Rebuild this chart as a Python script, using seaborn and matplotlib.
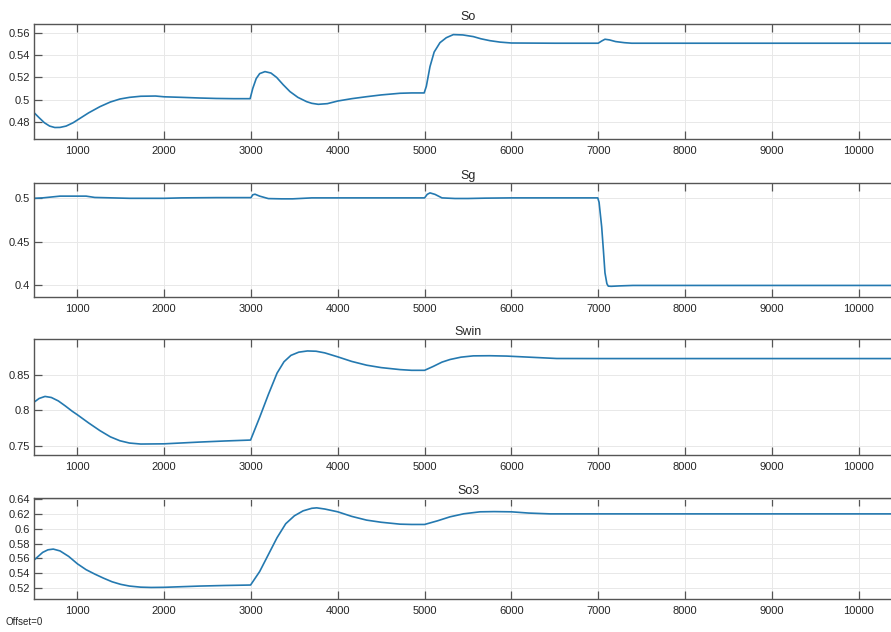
import numpy as np
import pandas as pd
import matplotlib
matplotlib.use("Agg")
import matplotlib.pyplot as plt
import matplotlib.ticker as mticker
import seaborn as sns

# ---------------- data ----------------
titles = ["So", "Sg", "Swin", "So3"]

so_x = [500, 560, 620, 680, 740, 800, 870, 950, 1000, 1130, 1260, 1380, 1490, 1600, 1730, 1900,
        2000, 2200, 2412, 2600, 2800, 2990, 3020, 3060, 3100, 3161, 3230, 3296, 3370, 3449,
        3540, 3641, 3700, 3775, 3880, 4000, 4160, 4332, 4500, 4717, 4850, 4995, 5020, 5062,
        5110, 5177, 5250, 5331, 5440, 5561, 5650, 5753, 5870, 6000, 6500, 7000, 7040, 7078,
        7130, 7200, 7300, 7386, 8000, 9000, 10500]
so_y = [0.4882, 0.4835, 0.4790, 0.4760, 0.4747, 0.4748, 0.4760, 0.4790, 0.4815, 0.488, 0.4936,
        0.4978, 0.5005, 0.502, 0.503, 0.5032, 0.5025, 0.502, 0.5014, 0.501, 0.5008, 0.5008,
        0.510, 0.519, 0.5235, 0.5253, 0.5240, 0.520, 0.5135, 0.5072, 0.502, 0.4981, 0.4966,
        0.4957, 0.4963, 0.4987, 0.5008, 0.5026, 0.5042, 0.5057, 0.506, 0.506, 0.512, 0.5298,
        0.543, 0.5515, 0.556, 0.5588, 0.5585, 0.557, 0.555, 0.5533, 0.552, 0.5512, 0.551,
        0.551, 0.553, 0.5546, 0.554, 0.5525, 0.5515, 0.551, 0.551, 0.551, 0.551]

sg_x = [500, 600, 800, 1100, 1200, 1600, 2000, 2200, 2600, 3000, 3020, 3046, 3100, 3200, 3350,
        3480, 3600, 3700, 4000, 5000, 5030, 5062, 5120, 5200, 5350, 5500, 5700, 6000, 6995,
        7010, 7040, 7060, 7078, 7100, 7116, 7150, 7250, 7400, 8000, 10500]
sg_y = [0.4995, 0.5, 0.502, 0.502, 0.5005, 0.4995, 0.4995, 0.5, 0.5003, 0.5003, 0.5035, 0.5042,
        0.502, 0.4992, 0.4989, 0.4989, 0.4995, 0.5, 0.5, 0.5, 0.504, 0.5057, 0.504, 0.5, 0.4993,
        0.4993, 0.4997, 0.5, 0.5, 0.495, 0.467, 0.44, 0.4144, 0.402, 0.3992, 0.399, 0.3995,
        0.4, 0.4, 0.4]

swin_x = [500, 560, 627, 700, 780, 860, 940, 1000, 1130, 1260, 1380, 1490, 1600, 1730, 2000,
          2412, 2700, 2995, 3100, 3200, 3300, 3380, 3460, 3550, 3650, 3750, 3850, 4000, 4160,
          4332, 4500, 4717, 4850, 5000, 5100, 5200, 5293, 5420, 5561, 5750, 5946, 6200, 6522,
          7000, 10500]
swin_y = [0.8112, 0.8165, 0.8193, 0.8178, 0.8130, 0.8060, 0.7985, 0.7935, 0.7820, 0.7712,
          0.7625, 0.757, 0.7538, 0.7524, 0.7527, 0.7552, 0.7567, 0.758, 0.790, 0.822, 0.852,
          0.868, 0.877, 0.8815, 0.8832, 0.8828, 0.8805, 0.8749, 0.8685, 0.8632, 0.8598, 0.857,
          0.856, 0.856, 0.8615, 0.8675, 0.8712, 0.8745, 0.8763, 0.8765, 0.876, 0.8745, 0.8726,
          0.8725, 0.8725]

so3_x = [500, 600, 660, 722, 800, 900, 1000, 1100, 1200, 1300, 1400, 1500, 1600, 1730, 1850,
         2000, 2412, 2700, 2995, 3100, 3200, 3300, 3400, 3500, 3600, 3700, 3757, 3850, 4000,
         4160, 4332, 4500, 4717, 4850, 5000, 5150, 5293, 5450, 5638, 5800, 6000, 6200, 6445,
         7000, 10500]
so3_y = [0.5575, 0.5680, 0.5715, 0.5725, 0.5700, 0.5625, 0.5525, 0.5445, 0.5385, 0.5330,
         0.5280, 0.5245, 0.5222, 0.5207, 0.5203, 0.5205, 0.5222, 0.523, 0.5236, 0.542, 0.565,
         0.588, 0.607, 0.6178, 0.6245, 0.628, 0.6286, 0.627, 0.6232, 0.617, 0.6119, 0.609,
         0.6064, 0.606, 0.606, 0.611, 0.6164, 0.6205, 0.6232, 0.6235, 0.6232, 0.6215, 0.6204,
         0.6204, 0.6204]

x_ticks = [1000, 2000, 3000, 4000, 5000, 6000, 7000, 8000, 9000, 10000]
y_ticks = [
    [0.48, 0.5, 0.52, 0.54, 0.56],
    [0.4, 0.45, 0.5],
    [0.75, 0.8, 0.85],
    [0.52, 0.54, 0.56, 0.58, 0.6, 0.62, 0.64],
]
y_lims = [(0.4643, 0.5684), (0.3868, 0.517), (0.737, 0.900), (0.5046, 0.642)]
x_lim = (500, 10500)

series = [(so_x, so_y), (sg_x, sg_y), (swin_x, swin_y), (so3_x, so3_y)]

# ---------------- style ----------------
sns.set_style("whitegrid")
plt.rcParams["font.family"] = ["Liberation Sans", "DejaVu Sans"]

W, H = 891, 632
fig = plt.figure(figsize=(W / 100, H / 100), dpi=100)
fig.patch.set_facecolor("white")

# axes boxes in pixels: (top, bottom)
boxes = [(24, 139), (183, 297), (339, 455), (498, 599)]
left_px, width_px = 34, 868

line_color = "#2479b0"
spine_color = "#555555"
text_color = "#262626"

for i, ((xs, ys), (top, bot)) in enumerate(zip(series, boxes)):
    ax = fig.add_axes([left_px / W, 1 - bot / H, width_px / W, (bot - top) / H])
    df = pd.DataFrame({"t": xs, "v": ys})
    sns.lineplot(data=df, x="t", y="v", ax=ax, color=line_color, linewidth=1.2,
                 sort=False, estimator=None)
    ax.set_xlim(*x_lim)
    ax.set_ylim(*y_lims[i])
    ax.set_xticks(x_ticks)
    ax.set_yticks(y_ticks[i])
    ax.yaxis.set_major_formatter(mticker.FormatStrFormatter("%g"))
    ax.xaxis.set_major_formatter(mticker.FormatStrFormatter("%g"))
    ax.set_xlabel("")
    ax.set_ylabel("")
    ax.set_facecolor("white")
    ax.grid(True, color="#e8e8e8", linewidth=0.7)
    for s in ax.spines.values():
        s.set_color(spine_color)
        s.set_linewidth(1.0)
        s.set_visible(True)
    ax.tick_params(axis="x", which="major", direction="in", length=6, width=0.9,
                   color=spine_color, top=True, bottom=True, labelsize=8,
                   labelcolor=text_color, pad=5)
    ax.tick_params(axis="y", which="major", direction="in", length=6, width=0.9,
                   color=spine_color, left=True, right=True, labelsize=8,
                   labelcolor=text_color, pad=3)
    ax.set_title(titles[i], fontsize=9, color=text_color, pad=3)

fig.text(5 / W, 1 - 622 / H, "Offset=0", fontsize=7, color=text_color,
         ha="left", va="center")

fig.savefig("out.png", dpi=100, facecolor="white")
